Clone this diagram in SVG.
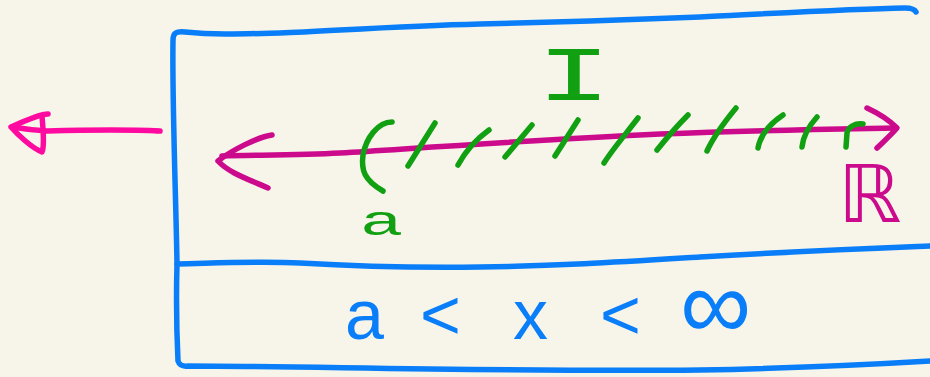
<svg xmlns="http://www.w3.org/2000/svg" width="930" height="377" viewBox="0 0 930 377">
  <style>
    .ink { fill: none; stroke-linecap: round; stroke-linejoin: round; }
    .blue { stroke: #0a7ef8; stroke-width: 5.5; }
    .plum { stroke: #cc0a8c; stroke-width: 5.5; }
    .pink { stroke: #ff0aa0; stroke-width: 5.5; }
    .green { stroke: #11a011; stroke-width: 5.5; }
    .hand { font-family: "Liberation Sans", "DejaVu Sans", sans-serif; }
  </style>
  <rect width="930" height="377" fill="#f7f5ea"/>

  <!-- outward arrow on the left -->
  <g id="outer-arrow" class="ink pink">
    <path d="M160,131 C120,129 80,130 47,131 C30,130 18,128 12,127"/>
    <path d="M48,114 C40,114 22,122 11,127 C18,135 32,148 42,152 C45,145 43,130 42,116"/>
    <circle cx="157" cy="131" r="2.5" fill="#ff0aa0" stroke="none"/>
  </g>

  <!-- frame with divider -->
  <g id="frame" class="ink blue">
    <path d="M916,12 Q914,8 905,8 C850,9 780,13 700,17 C620,20 560,22 480,24 C400,26 330,31 280,33 C240,34 215,35 185,32 C176,31 173,33 173,40 C172,100 176,200 177,264 C176,300 177,340 178,361 Q180,367 188,366 C300,366 500,372 700,370 C800,368 880,364 930,361"/>
    <path d="M177,264 C220,263 260,261 300,263 C350,266 400,268 480,267 C560,266 620,262 700,257 C800,251 880,248 930,246"/>
  </g>

  <!-- real line with arrows both ways -->
  <g id="real-line" class="ink plum">
    <path d="M222,156 C260,155 300,155 340,153 C450,146 550,139 660,134 C760,130 840,129 894,128"/>
    <path d="M272,135 C258,137 232,150 218,161 C228,172 245,178 268,188"/>
    <path d="M867,108 C880,114 890,121 897,128 C890,136 883,142 877,148"/>
  </g>
  <text id="reals" x="838" y="222" font-family="DejaVu Sans, sans-serif" font-size="80" fill="#cc0a8c">ℝ</text>

  <!-- interval from a to infinity -->
  <g id="interval" class="ink green">
    <path d="M392,122 C378,122 366,138 363,155 C361,170 364,180 383,191"/>
    <path d="M435,123 L408,166"/>
    <path d="M489,130 C475,140 465,152 458,165"/>
    <path d="M532,125 L505,157"/>
    <path d="M578,120 L555,156"/>
    <path d="M638,118 C625,135 612,150 604,163"/>
    <path d="M688,115 C675,128 665,140 657,150"/>
    <path d="M736,108 C722,125 712,140 707,151"/>
    <path d="M783,115 C768,125 760,137 758,148"/>
    <path d="M817,117 C808,127 803,137 802,147"/>
    <path d="M863,124 C855,123 848,127 847,133 L846,147"/>
  </g>
  <text id="label-I" transform="translate(574,100) scale(1.6,1)" text-anchor="middle" font-family="Liberation Mono, monospace" font-size="78" fill="#11a011">I</text>
  <text id="label-a" class="hand" transform="translate(381,235) scale(1.7,1)" text-anchor="middle" font-size="42" fill="#11a011">a</text>

  <!-- condition in the lower cell -->
  <text id="condition" class="hand" font-size="70" fill="#0a7ef8" x="345 400 420 490 513 580 600 660 680" y="339">a &lt; x &lt; <tspan font-size="100">∞</tspan></text>
</svg>
